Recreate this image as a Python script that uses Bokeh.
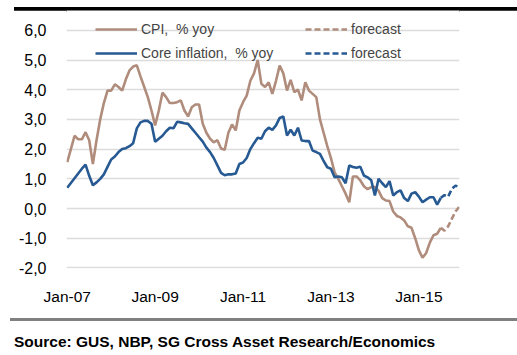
from bokeh.plotting import figure
from bokeh.models import (ColumnDataSource, FixedTicker, Legend, LegendItem, Range1d, Div)
from bokeh.layouts import column
from bokeh.embed import file_html
from bokeh.resources import INLINE

# month index 0 = Jan-07
cpi = [1.56, 2.0, 2.45, 2.33, 2.33, 2.57, 2.3, 1.5, 2.3, 3.0, 3.55, 3.97,
       3.97, 4.18, 4.09, 3.97, 4.35, 4.65, 4.78, 4.82, 4.45, 4.1, 3.75, 3.3,
       2.8, 3.3, 3.9, 3.75, 3.55, 3.55, 3.58, 3.64, 3.3, 3.1, 3.41, 3.5,
       3.5, 2.85, 2.55, 2.35, 2.23, 2.3, 2.02, 1.98, 2.55, 2.83, 2.63, 3.3,
       3.58, 3.8, 4.3, 4.55, 5.0, 4.2, 4.09, 4.25, 3.86, 4.3, 4.81, 4.55,
       3.97, 4.33, 3.92, 4.0, 3.64, 4.25, 3.97, 3.86, 3.75, 3.0, 2.55, 2.1,
       1.7, 1.22, 1.0, 0.75, 0.5, 0.21, 1.08, 1.08, 0.95, 0.75, 0.65, 0.72,
       0.72, 0.6, 0.35, 0.27, 0.25, -0.1, -0.25, -0.3, -0.4, -0.6, -0.65, -1.0,
       -1.4, -1.66, -1.5, -1.15, -0.9, -0.85, -0.65]
cpi_fc = [-0.65, -0.75, -0.6, -0.35, -0.1, 0.05]

core = [0.7, 0.86, 1.02, 1.18, 1.34, 1.48, 1.1, 0.78, 0.88, 1.0, 1.15, 1.4,
        1.65, 1.75, 1.9, 2.0, 2.03, 2.1, 2.2, 2.7, 2.9, 2.95, 2.95, 2.85,
        2.25, 2.35, 2.45, 2.6, 2.72, 2.7, 2.92, 2.9, 2.87, 2.85, 2.7, 2.55,
        2.4, 2.25, 2.05, 1.9, 1.7, 1.45, 1.2, 1.12, 1.15, 1.15, 1.18, 1.5,
        1.55, 1.7, 2.0, 2.2, 2.38, 2.35, 2.6, 2.72, 2.65, 2.8, 3.05, 3.1,
        2.46, 2.65, 2.46, 2.72, 2.29, 2.27, 2.27, 1.95, 1.9, 1.84, 1.6, 1.39,
        1.34, 1.05, 1.08, 1.05, 0.85, 1.45, 1.4, 1.37, 1.41, 1.11, 1.05, 0.95,
        0.44, 1.0, 0.85, 0.72, 0.92, 0.44, 0.55, 0.61, 0.35, 0.25, 0.5, 0.55,
        0.4, 0.21, 0.3, 0.38, 0.38, 0.13, 0.36]
core_fc = [0.36, 0.45, 0.4, 0.66, 0.77, 0.72]

x_ticks = [0, 24, 48, 72, 96]
x_labels = ["Jan-07", "Jan-09", "Jan-11", "Jan-13", "Jan-15"]
y_ticks = [-2, -1, 0, 1, 2, 3, 4, 5, 6]
y_labels = ["-2,0", "-1,0", "0,0", "1,0", "2,0", "3,0", "4,0", "5,0", "6,0"]
source_text = "Source: GUS, NBP, SG Cross Asset Research/Economics"

n = len(cpi)
src = ColumnDataSource(dict(m=list(range(n)), cpi=cpi, core=core))
fc_m = list(range(n - 1, n - 1 + len(cpi_fc)))
src_fc = ColumnDataSource(dict(m=fc_m, cpi=cpi_fc, core=core_fc))

BROWN = "#B08C7C"
BLUE = "#275A92"
FONT = "Liberation Sans"

p = figure(width=517, height=300, output_backend="svg", toolbar_location=None,
           x_range=Range1d(-0.2, 107.1), y_range=Range1d(-2.02, 6.667),
           min_border_left=66, min_border_right=58, min_border_top=0,
           min_border_bottom=42, margin=(0, 0, 0, 0))
p.outline_line_color = None
p.background_fill_color = "white"
p.border_fill_color = "white"

r1 = p.line("m", "cpi", source=src, line_color=BROWN, line_width=2.6)
r2 = p.line("m", "cpi", source=src_fc, line_color=BROWN, line_width=2.6, line_dash="6 3")
r3 = p.line("m", "core", source=src, line_color=BLUE, line_width=2.6)
r4 = p.line("m", "core", source=src_fc, line_color=BLUE, line_width=2.6, line_dash="6 3")

p.xgrid.grid_line_color = None
p.ygrid.grid_line_color = "#DCDCDC"
p.ygrid.grid_line_width = 1.5

p.xaxis.ticker = FixedTicker(ticks=x_ticks)
p.xaxis.major_label_overrides = {t: l for t, l in zip(x_ticks, x_labels)}
p.yaxis.ticker = FixedTicker(ticks=y_ticks)
p.ygrid.ticker = FixedTicker(ticks=y_ticks)
p.yaxis.major_label_overrides = {t: l for t, l in zip(y_ticks, y_labels)}
for ax in (p.xaxis, p.yaxis):
    ax.axis_line_color = None
    ax.major_tick_line_color = None
    ax.minor_tick_line_color = None
    ax.major_label_text_font = FONT
    ax.major_label_text_color = "#000000"
p.xaxis.major_label_text_font_size = "15.5px"
p.yaxis.major_label_text_font_size = "16px"
p.xaxis.major_label_standoff = 13
p.yaxis.major_label_standoff = 14

legend = Legend(items=[
    LegendItem(label="CPI,  % yoy", renderers=[r1]),
    LegendItem(label="Core inflation,  % yoy", renderers=[r3]),
    LegendItem(label="forecast", renderers=[r2]),
    LegendItem(label="forecast", renderers=[r4]),
], ncols=2, location=(29, 205), padding=0, margin=0, spacing=4,
   glyph_width=42, glyph_height=20, label_height=20, label_standoff=4,
   label_width=160, label_text_font=FONT, label_text_font_size="14px",
   border_line_color=None, background_fill_alpha=0)
p.add_layout(legend)

top_bar = Div(width=517, height=10, margin=(0, 0, 0, 0),
              text='<div style="margin:4px 0 0 14px;width:503px;height:5.5px;background:#000"></div>')
bottom = Div(width=517, height=45, margin=(0, 0, 0, 0),
             text=('<div style="margin:8px 0 0 10px;width:507px;height:2.5px;background:#808080"></div>'
                   '<div style="margin:12px 0 0 14px;font-family:\'Liberation Sans\';font-weight:bold;'
                   'font-size:15.5px;line-height:18px;color:#000;white-space:nowrap">'
                   + source_text + '</div>'))

layout = column(top_bar, p, bottom, spacing=0, margin=(0, 0, 0, 0))
open("out.html", "w").write(file_html(layout, INLINE))
